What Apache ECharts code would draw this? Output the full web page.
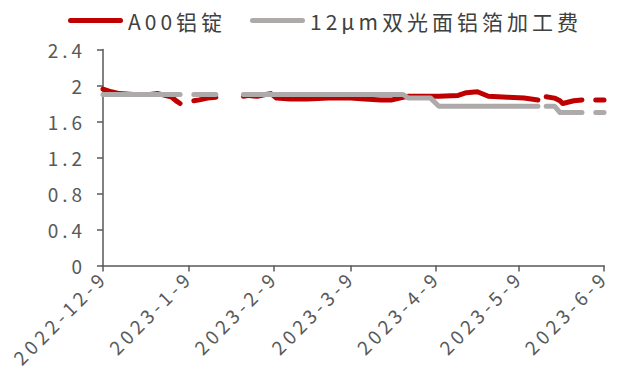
<!DOCTYPE html>
<html>
<head>
<meta charset="utf-8">
<script src="https://cdn.jsdelivr.net/npm/echarts@6/dist/echarts.min.js"></script>
<style>
  html, body { margin: 0; padding: 0; background: #fff; }
  #chart { width: 619px; height: 380px; letter-spacing: 4px; }
</style>
</head>
<body>
<div id="chart"></div>
<script>
// Trading days (null marks a day with no quote -> line break)
const dates = [
  '2022-12-09','2022-12-12','2022-12-15','2022-12-20','2022-12-26','2022-12-29',
  '2023-01-03','2023-01-05','2023-01-06','2023-01-09','2023-01-11','2023-01-13',
  '2023-01-16','2023-01-19','2023-01-21','2023-01-29','2023-01-31','2023-02-03',
  '2023-02-06','2023-02-08','2023-02-10','2023-02-15','2023-02-21','2023-03-01',
  '2023-03-09','2023-03-14','2023-03-20','2023-03-24','2023-03-28','2023-03-30',
  '2023-04-07','2023-04-10','2023-04-17','2023-04-20','2023-04-24','2023-04-28',
  '2023-05-05','2023-05-11','2023-05-16','2023-05-17','2023-05-19','2023-05-22',
  '2023-05-24','2023-05-25','2023-05-29','2023-06-01','2023-06-02','2023-06-06',
  '2023-06-09'
];

// A00 aluminium ingot (price index)
const a00Ingot = [
  1.96, 1.93, 1.91, 1.90, 1.90, 1.91,
  1.87, 1.82, 1.80, null, 1.83, 1.84,
  1.86, 1.87, null, 1.88, 1.89, 1.88,
  1.90, 1.91, 1.86, 1.85, 1.85, 1.86,
  1.86, 1.85, 1.84, 1.84, 1.87, 1.88,
  1.88, 1.88, 1.89, 1.92, 1.93, 1.88,
  1.87, 1.86, 1.84, null, 1.875, 1.86,
  1.83, 1.80, 1.83, 1.84, null, 1.84,
  1.84
];

// 12μm double-side bright foil processing fee
const foilFee = [
  1.90, 1.90, 1.90, 1.90, 1.90, 1.90,
  1.90, 1.90, 1.90, null, 1.90, 1.90,
  1.90, 1.90, null, 1.90, 1.90, 1.90,
  1.90, 1.90, 1.90, 1.90, 1.90, 1.90,
  1.90, 1.90, 1.90, 1.90, 1.90, 1.86,
  1.86, 1.77, 1.77, 1.77, 1.77, 1.77,
  1.77, 1.77, 1.77, null, 1.77, 1.77,
  1.70, 1.70, 1.70, 1.70, null, 1.70,
  1.70
];

const seriesNames = ['A00铝锭', '12μm双光面铝箔加工费'];
const xTickLabels = ['2022-12-9', '2023-1-9', '2023-2-9', '2023-3-9', '2023-4-9', '2023-5-9', '2023-6-9'];
const yMin = 0, yMax = 2.4, yStep = 0.4;

const RED = '#C00000';
const GREY = '#AEAAAA';
const AXIS = '#595959';
const FONT = 'Noto Sans CJK SC';

function toTime(s) {
  const [y, m, d] = s.split('-').map(Number);
  return Date.UTC(y, m - 1, d);
}
const tickTimes = xTickLabels.map(toTime);
const toPairs = arr => dates.map((d, i) => [toTime(d), arr[i] == null ? '-' : arr[i]]);

function tickText(v) {
  const i = tickTimes.findIndex(t => Math.abs(t - v) < 3600e3);
  return i >= 0 ? xTickLabels[i] : '';
}

const lineSeries = (name, data, color) => ({
  name,
  type: 'line',
  data: toPairs(data),
  symbol: 'none',
  connectNulls: false,
  lineStyle: { width: 5, color, cap: 'round', join: 'round' },
  itemStyle: { color }
});

// legend key: a short stroke with rounded ends
const legendBase = {
  top: 5,
  itemWidth: 55,
  itemHeight: 5,
  itemGap: 0,
  icon: 'path://M2.5,0H52.5A2.5,2.5,0,0,1,52.5,5H2.5A2.5,2.5,0,0,1,2.5,0Z',
  textStyle: { fontSize: 21, color: '#404040', fontFamily: FONT }
};

const chart = echarts.init(document.getElementById('chart'), null, { renderer: 'svg' });
chart.setOption({
  animation: false,
  textStyle: { fontFamily: FONT },
  legend: [
    Object.assign({}, legendBase, { left: 63, data: [seriesNames[0]] }),
    Object.assign({}, legendBase, { left: 245, data: [seriesNames[1]] })
  ],
  grid: { left: 103, right: 15, top: 49.5, bottom: 114.5 },
  xAxis: {
    type: 'value',
    min: tickTimes[0],
    max: tickTimes[tickTimes.length - 1],
    axisLine: { show: true, onZero: false, lineStyle: { color: AXIS, width: 1.5 } },
    axisTick: { show: true, length: 6, customValues: tickTimes, lineStyle: { color: AXIS, width: 1.5 } },
    axisLabel: {
      customValues: tickTimes,
      rotate: 45,
      margin: 8,
      color: AXIS,
      fontSize: 19,
      fontFamily: FONT,
      formatter: tickText
    },
    splitLine: { show: false }
  },
  yAxis: {
    type: 'value',
    min: yMin,
    max: yMax,
    interval: yStep,
    axisLine: { show: true, lineStyle: { color: AXIS, width: 1.5 } },
    axisTick: { show: true, length: 6, lineStyle: { color: AXIS, width: 1.5 } },
    axisLabel: { color: AXIS, fontSize: 19, fontFamily: FONT, margin: 17 },
    splitLine: { show: false }
  },
  series: [
    lineSeries(seriesNames[0], a00Ingot, RED),
    lineSeries(seriesNames[1], foilFee, GREY)
  ]
});
</script>
</body>
</html>
